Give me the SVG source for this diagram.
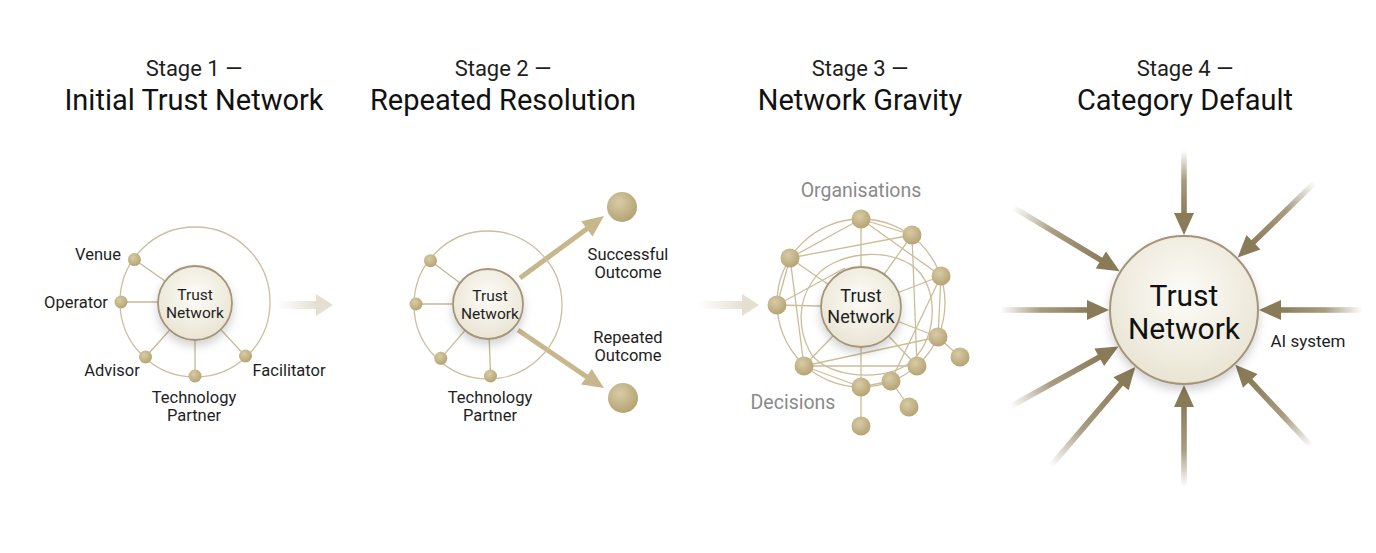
<svg xmlns="http://www.w3.org/2000/svg" width="1376" height="553" viewBox="0 0 1376 553">
<defs>
<style>
text{font-family:Roboto,"Liberation Sans",sans-serif;text-anchor:middle;fill:#1e1e1e}
.t1{font-size:22px}
.t2{font-size:29px;fill:#111}
.lbl{font-size:16.5px}
.hubt{font-size:15.5px}
.gray{font-size:19.5px;fill:#8a8a8a}
.ring{fill:none;stroke:#cdbf9e;stroke-width:1.3}
.spoke{stroke:#c6b896;stroke-width:1.3;fill:none}
.mesh{stroke:#cbbd98;stroke-width:1.3;fill:none}
.hub{fill:url(#hubg);stroke:#a4957a;stroke-width:1.8;filter:url(#sh)}
.dot{fill:url(#dotg)}
.s2arrow{stroke:#c6b78d;stroke-width:5;fill:none}
.s2head{fill:#c6b78d}
.s4head{fill:#8a7b58}
</style>
<radialGradient id="hubg" cx="50%" cy="40%" r="60%">
<stop offset="0" stop-color="#fdfcf8"/>
<stop offset="1" stop-color="#e9e4d3"/>
</radialGradient>
<radialGradient id="dotg" cx="40%" cy="35%" r="65%">
<stop offset="0" stop-color="#d8cba5"/>
<stop offset="1" stop-color="#b5a475"/>
</radialGradient>
<linearGradient id="fadeR" x1="0" y1="0" x2="1" y2="0">
<stop offset="0" stop-color="#e4dfd0" stop-opacity="0"/>
<stop offset="1" stop-color="#e4dfd0" stop-opacity="1"/>
</linearGradient>
<linearGradient id="s4g" x1="0" y1="0" x2="1" y2="0">
<stop offset="0" stop-color="#8a7b58" stop-opacity="1"/>
<stop offset="0.55" stop-color="#8a7b58" stop-opacity="0.75"/>
<stop offset="1" stop-color="#8a7b58" stop-opacity="0"/>
</linearGradient>
<filter id="sh" x="-40%" y="-40%" width="180%" height="190%">
<feDropShadow dx="0" dy="5" stdDeviation="5" flood-color="#000" flood-opacity="0.18"/>
</filter>
</defs>
<rect width="1376" height="553" fill="#ffffff"/>

<!-- Titles -->
<g id="titles">
<text class="t1" x="194" y="76">Stage 1 —</text>
<text class="t2" x="194" y="110">Initial Trust Network</text>
<text class="t1" x="503" y="76">Stage 2 —</text>
<text class="t2" x="503" y="110">Repeated Resolution</text>
<text class="t1" x="860" y="76">Stage 3 —</text>
<text class="t2" x="860" y="110">Network Gravity</text>
<text class="t1" x="1185" y="76">Stage 4 —</text>
<text class="t2" x="1185" y="110">Category Default</text>
</g>

<!-- Connectors -->
<g id="connectors">
<!-- between stages -->
<rect x="277" y="301" width="40" height="8" fill="url(#fadeR)"/>
<polygon points="316,294 333,305 316,316" fill="#e4dfd0"/>
<rect x="698" y="301" width="46" height="8" fill="url(#fadeR)"/>
<polygon points="742,294 759,305 742,316" fill="#e4dfd0"/>

<!-- stage 1 spokes -->
<g transform="translate(195 302)">
<line class="spoke" x1="37" y1="0" x2="74" y2="0" transform="rotate(-145)"/>
<line class="spoke" x1="37" y1="0" x2="74" y2="0" transform="rotate(180)"/>
<line class="spoke" x1="37" y1="0" x2="74" y2="0" transform="rotate(132)"/>
<line class="spoke" x1="37" y1="0" x2="74" y2="0" transform="rotate(90)"/>
<line class="spoke" x1="37" y1="0" x2="74" y2="0" transform="rotate(47)"/>
</g>

<!-- stage 2 spokes -->
<g transform="translate(488 304)">
<line class="spoke" x1="35" y1="0" x2="72" y2="0" transform="rotate(-143)"/>
<line class="spoke" x1="35" y1="0" x2="72" y2="0" transform="rotate(180)"/>
<line class="spoke" x1="35" y1="0" x2="72" y2="0" transform="rotate(131)"/>
<line class="spoke" x1="35" y1="0" x2="72" y2="0" transform="rotate(88)"/>
</g>
<!-- stage 2 arrows -->
<line class="s2arrow" x1="520" y1="278" x2="588" y2="228"/>
<polygon class="s2head" points="604,216 592.5,236.5 581.2,221.2"/>
<line class="s2arrow" x1="518" y1="330" x2="587" y2="377"/>
<polygon class="s2head" points="604,388 581.2,384.5 591.8,368.9"/>

<!-- stage 3 mesh -->
<g class="mesh">
<circle cx="861" cy="303" r="84"/>
<path d="M812,282 C830,250 898,244 921,274 C942,303 932,350 905,366 C878,382 822,377 809,350 C798,328 798,302 812,282 Z"/>
<line x1="861" y1="219" x2="912" y2="235"/>
<line x1="861" y1="219" x2="790" y2="258"/>
<line x1="861" y1="219" x2="861" y2="307"/>
<line x1="861" y1="219" x2="941" y2="276"/>
<line x1="790" y1="258" x2="912" y2="235"/>
<line x1="790" y1="258" x2="861" y2="307"/>
<line x1="790" y1="258" x2="777" y2="305"/>
<line x1="790" y1="258" x2="804" y2="366"/>
<line x1="777" y1="305" x2="861" y2="307"/>
<line x1="777" y1="305" x2="845" y2="268"/>
<line x1="912" y1="235" x2="861" y2="307"/>
<line x1="912" y1="235" x2="917" y2="366"/>
<line x1="941" y1="276" x2="861" y2="307"/>
<line x1="941" y1="276" x2="891" y2="381"/>
<line x1="941" y1="276" x2="938" y2="337"/>
<line x1="938" y1="337" x2="861" y2="307"/>
<line x1="938" y1="337" x2="960" y2="357"/>
<line x1="938" y1="337" x2="804" y2="366"/>
<line x1="804" y1="366" x2="861" y2="307"/>
<line x1="804" y1="366" x2="917" y2="366"/>
<line x1="804" y1="366" x2="861" y2="387"/>
<line x1="917" y1="366" x2="861" y2="307"/>
<line x1="861" y1="387" x2="861" y2="307"/>
<line x1="861" y1="387" x2="891" y2="381"/>
<line x1="861" y1="387" x2="861" y2="426"/>
<line x1="891" y1="381" x2="909" y2="407"/>
</g>

<!-- stage 4 arrows -->
<g transform="translate(1184 310)">
<g transform="rotate(-90)"><rect x="94" y="-2.8" width="66" height="5.6" fill="url(#s4g)"/><polygon class="s4head" points="75,0 97,-10 97,10"/></g>
<g transform="rotate(-149)"><rect x="94" y="-2.8" width="106" height="5.6" fill="url(#s4g)"/><polygon class="s4head" points="75,0 97,-10 97,10"/></g>
<g transform="rotate(-44.3)"><rect x="94" y="-2.8" width="89" height="5.6" fill="url(#s4g)"/><polygon class="s4head" points="75,0 97,-10 97,10"/></g>
<g transform="rotate(180)"><rect x="94" y="-2.8" width="90" height="5.6" fill="url(#s4g)"/><polygon class="s4head" points="75,0 97,-10 97,10"/></g>
<g transform="rotate(0)"><rect x="94" y="-2.8" width="85" height="5.6" fill="url(#s4g)"/><polygon class="s4head" points="75,0 97,-10 97,10"/></g>
<g transform="rotate(150.9)"><rect x="94" y="-2.8" width="105" height="5.6" fill="url(#s4g)"/><polygon class="s4head" points="75,0 97,-10 97,10"/></g>
<g transform="rotate(130.5)"><rect x="94" y="-2.8" width="112" height="5.6" fill="url(#s4g)"/><polygon class="s4head" points="75,0 97,-10 97,10"/></g>
<g transform="rotate(90)"><rect x="94" y="-2.8" width="83" height="5.6" fill="url(#s4g)"/><polygon class="s4head" points="75,0 97,-10 97,10"/></g>
<g transform="rotate(46.9)"><rect x="94" y="-2.8" width="93" height="5.6" fill="url(#s4g)"/><polygon class="s4head" points="75,0 97,-10 97,10"/></g>
</g>
</g>

<!-- Stage 1 -->
<g id="stage1">
<circle class="ring" cx="195" cy="302" r="75"/>
<g id="s1-hub"><circle class="hub" cx="195" cy="303" r="37"/>
<text class="hubt" x="195" y="299.5">Trust</text><text class="hubt" x="195" y="317.5">Network</text></g>
<g id="s1-venue"><circle class="dot" cx="134.4" cy="259.6" r="6.5"/><text class="lbl" x="98" y="260">Venue</text></g>
<g id="s1-operator"><circle class="dot" cx="121" cy="302" r="6.5"/><text class="lbl" x="76" y="308">Operator</text></g>
<g id="s1-advisor"><circle class="dot" cx="145.5" cy="357" r="6.5"/><text class="lbl" x="112" y="376">Advisor</text></g>
<g id="s1-tech"><circle class="dot" cx="195" cy="376" r="6.5"/><text class="lbl" x="194" y="403">Technology</text><text class="lbl" x="194" y="421">Partner</text></g>
<g id="s1-facilitator"><circle class="dot" cx="245.5" cy="356" r="6.5"/><text class="lbl" x="289" y="376">Facilitator</text></g>
</g>

<!-- Stage 2 -->
<g id="stage2">
<circle class="ring" cx="488" cy="305" r="74"/>
<g id="s2-hub"><circle class="hub" cx="488" cy="304" r="35"/>
<text class="hubt" x="490" y="301">Trust</text><text class="hubt" x="490" y="319">Network</text></g>
<g id="s2-n1"><circle class="dot" cx="430.5" cy="260.7" r="6.5"/></g>
<g id="s2-n2"><circle class="dot" cx="416" cy="304" r="6.5"/></g>
<g id="s2-n3"><circle class="dot" cx="440.8" cy="358.3" r="6.5"/></g>
<g id="s2-tech"><circle class="dot" cx="490.5" cy="376" r="6.5"/><text class="lbl" x="490" y="403">Technology</text><text class="lbl" x="490" y="421">Partner</text></g>
<g id="s2-success"><circle class="dot" cx="622" cy="207" r="15"/><text class="lbl" x="628" y="260">Successful</text><text class="lbl" x="628" y="278">Outcome</text></g>
<g id="s2-repeated"><circle class="dot" cx="623" cy="398" r="15"/><text class="lbl" x="628" y="343">Repeated</text><text class="lbl" x="628" y="361">Outcome</text></g>
</g>

<!-- Stage 3 -->
<g id="stage3">
<text class="gray" x="861" y="197">Organisations</text>
<text class="gray" x="793" y="409">Decisions</text>
<g id="s3-hub"><circle class="hub" cx="861" cy="307" r="40"/>
<text x="861" y="302" style="font-size:18px">Trust</text><text x="861" y="323" style="font-size:18px">Network</text></g>
<g id="s3-nodes">
<circle class="dot" cx="861" cy="219" r="9.5"/>
<circle class="dot" cx="912" cy="235" r="9.5"/>
<circle class="dot" cx="790" cy="258" r="9.5"/>
<circle class="dot" cx="941" cy="276" r="9.5"/>
<circle class="dot" cx="777" cy="305" r="9.5"/>
<circle class="dot" cx="938" cy="337" r="9.5"/>
<circle class="dot" cx="960" cy="357" r="9.5"/>
<circle class="dot" cx="804" cy="366" r="9.5"/>
<circle class="dot" cx="917" cy="366" r="9.5"/>
<circle class="dot" cx="891" cy="381" r="9.5"/>
<circle class="dot" cx="861" cy="387" r="9.5"/>
<circle class="dot" cx="909" cy="407" r="9.5"/>
<circle class="dot" cx="861" cy="426" r="9.5"/>
</g>
</g>

<!-- Stage 4 -->
<g id="stage4">
<g id="s4-hub"><circle class="hub" cx="1184" cy="310" r="74" style="stroke-width:2"/>
<text x="1184" y="306" style="font-size:30px;fill:#111">Trust</text><text x="1184" y="339" style="font-size:30px;fill:#111">Network</text></g>
<text x="1308" y="347" style="font-size:17px">AI system</text>
</g>
</svg>
